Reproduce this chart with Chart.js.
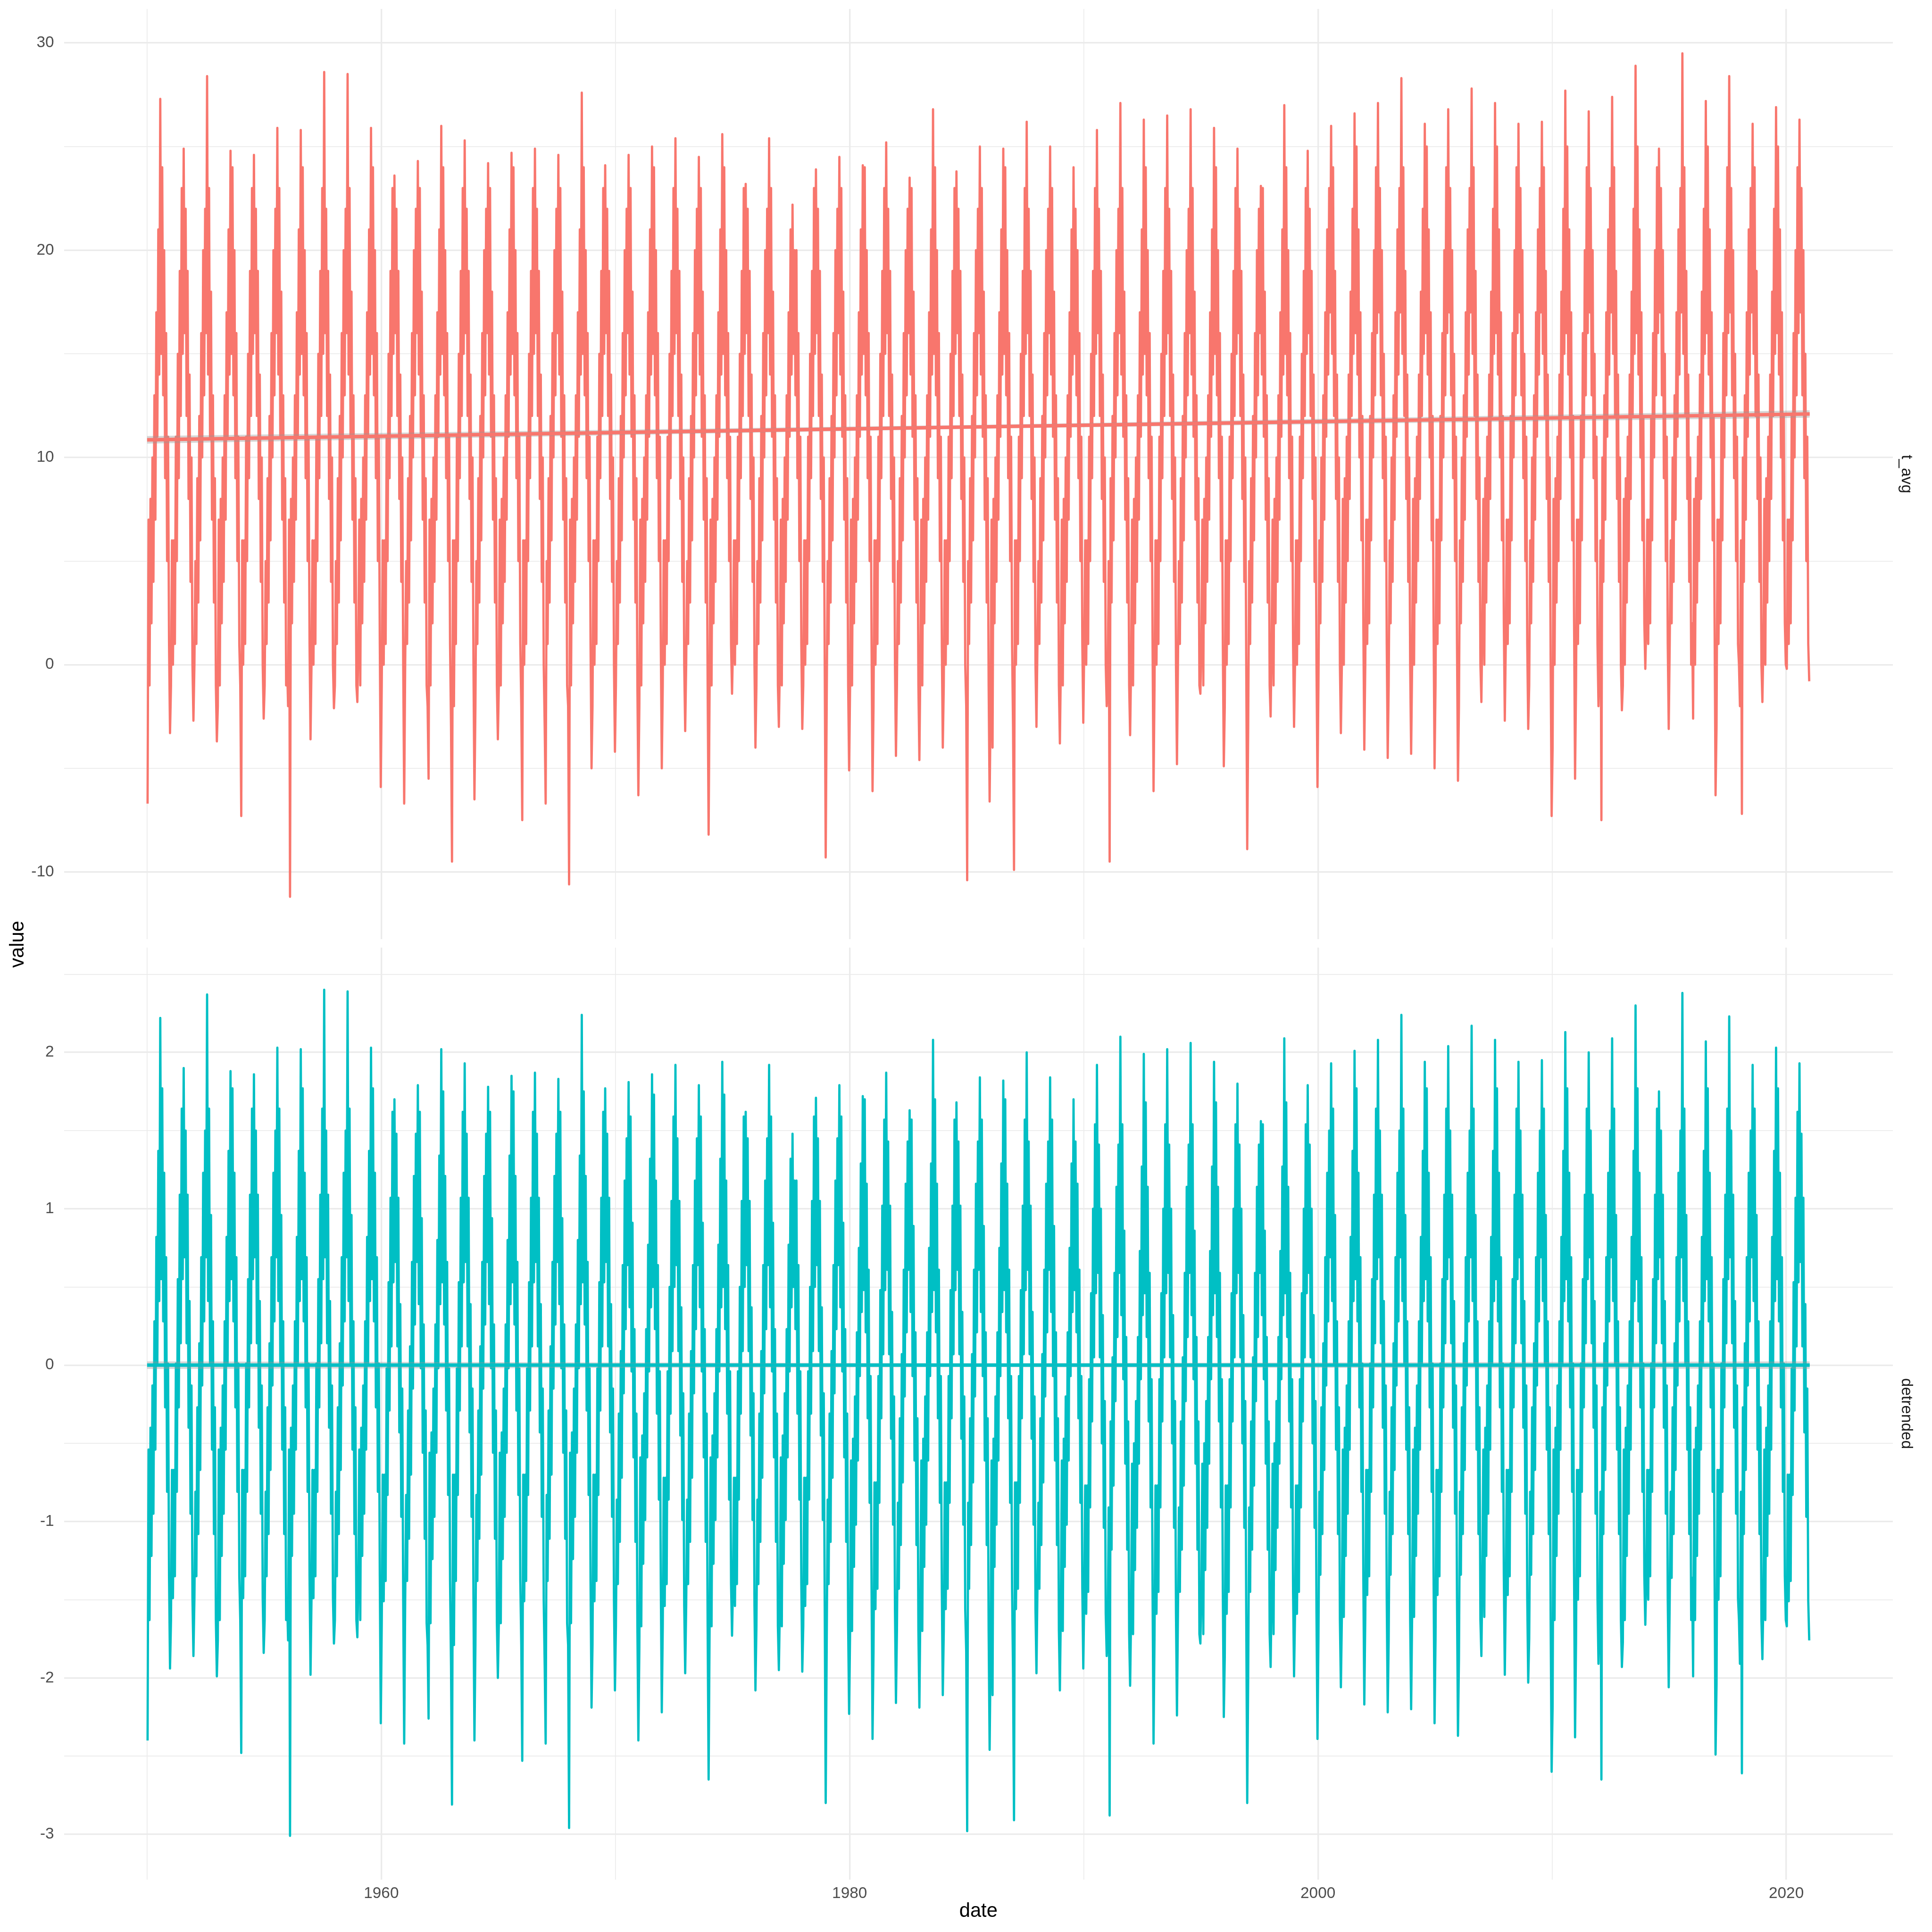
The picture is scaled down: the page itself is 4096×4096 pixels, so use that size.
<!DOCTYPE html>
<html><head><meta charset="utf-8">
<script src="https://cdn.jsdelivr.net/npm/chart.js@4.4.1/dist/chart.umd.min.js"></script>
<style>
html,body{margin:0;padding:0;background:#fff;}
#wrap{position:relative;width:4096px;height:4096px;background:#fff;}
canvas{position:absolute;left:0;top:0;}
</style></head><body>
<div id="wrap">
<canvas id="cTop" width="4096" height="4096" style="width:4096px;height:4096px"></canvas>
<canvas id="cBot" width="4096" height="4096" style="width:4096px;height:4096px"></canvas>
</div>
<script>
// ---------------- data: semi-monthly readings (24 per year), 1950-2020 ----------------
const startYear = 1950;
const pointsPerYear = 24;

const tAvg = [
-6.7,7,-1,8,2,10,4,13,7,17,11,21,14,27.3,15,24,13,20,9,16,5,11,1,-3.3,
-1,6,0,6,1,11,5,15,9,19,12,23,15,24.9,16,22,12,19,8,14,4,10,0,-2.7,
0,5,1,9,3,12,6,16,10,20,13,22,16,28.4,14,23,11,18,7,13,3,9,-1,-3.7,
-2,7,-1,8,2,10,4,13,7,17,11,21,14,24.8,15,24,13,20,9,16,5,11,1,-1,
-7.3,6,0,6,1,11,5,15,9,19,12,23,15,24.6,16,22,12,19,8,14,4,10,0,-2.6,
-1,5,1,9,3,12,6,16,10,20,13,22,16,25.9,14,23,11,18,7,13,3,9,-1,0,
-2,7,-11.2,8,2,10,4,13,7,17,11,21,14,25.8,15,24,13,20,9,16,5,11,1,-3.6,
0,6,0,6,1,11,5,15,9,19,12,23,15,28.6,16,22,12,19,8,14,4,10,0,-2.1,
-1,5,1,9,3,12,6,16,10,20,13,22,16,28.5,14,23,11,18,7,13,3,9,-1,-1.8,
1,7,-1,8,2,10,4,13,7,17,11,21,14,25.9,15,24,13,20,9,16,5,11,1,-5.9,
-1,6,0,6,1,11,5,15,9,19,12,23,15,23.6,16,22,12,19,8,14,4,10,0,-6.7,
0,5,1,9,3,12,6,16,10,20,13,22,16,24.3,14,23,11,18,7,13,3,9,-1,-2,
-5.5,7,-1,8,2,10,4,13,7,17,11,21,14,26,15,24,13,20,9,16,5,11,1,-3,
-9.5,6,-2,6,1,11,5,15,9,19,12,23,15,25.3,16,22,12,19,8,14,4,10,0,-6.5,
-2,5,1,9,3,12,6,16,10,20,13,22,16,24.2,14,23,11,18,7,13,3,9,-1,-3.6,
-1,7,-1,8,2,10,4,13,7,17,11,21,14,24.7,15,24,13,20,9,16,5,11,1,-2,
-7.5,6,0,6,1,11,5,15,9,19,12,23,15,24.9,16,22,12,19,8,14,4,10,0,-3,
-6.7,5,1,9,3,12,6,16,10,20,13,22,16,24.6,14,23,11,18,7,13,3,9,-1,-2,
-10.6,7,-1,8,2,10,4,13,7,17,11,21,14,27.6,15,24,13,20,9,16,5,11,1,-5,
-2,6,0,6,1,11,5,15,9,19,12,23,15,24.1,16,22,12,19,8,14,4,10,0,-4.2,
-1,5,1,9,3,12,6,16,10,20,13,22,16,24.6,14,23,11,18,7,13,3,9,-1,-6.3,
-2,7,-1,8,2,10,4,13,7,17,11,21,14,25,15,24,13,20,9,16,5,11,1,-5,
-1,6,0,6,1,11,5,15,9,19,12,23,15,25.4,16,22,12,19,8,14,4,10,0,-3.2,
0,5,1,9,3,12,6,16,10,20,13,22,16,24.5,14,23,11,18,7,13,3,9,-1,-8.2,
-1,7,-1,8,2,10,4,13,7,17,11,21,14,25.6,15,24,13,20,9,16,5,11,1,-1.4,
1,6,0,6,1,11,5,15,9,19,12,23,15,23.2,16,22,12,19,8,14,4,10,0,-4,
-1,5,1,9,3,12,6,16,10,20,13,22,16,25.4,14,23,11,18,7,13,3,9,-1,-3,
0,7,-1,8,2,10,4,13,7,17,11,21,14,22.2,15,20,13,20,9,16,5,11,1,-3.1,
-1,6,0,6,1,11,5,15,9,19,12,23,15,23.9,16,22,12,19,8,14,4,10,0,-9.3,
-2,5,1,9,3,12,6,16,10,20,13,22,16,24.5,14,23,11,18,7,13,3,9,-1,-5.1,
-1,7,-1,8,2,10,4,13,7,17,11,21,14,24.1,15,24,13,20,9,16,5,11,1,-6.1,
-2,6,0,6,1,11,5,15,9,19,12,23,15,25.2,16,22,12,19,8,14,4,10,0,-4.4,
-1,5,1,9,3,12,6,16,10,20,13,22,16,23.5,14,23,11,18,7,13,3,9,-1,-4.6,
0,7,-1,8,2,10,4,13,7,17,11,21,14,26.8,15,24,13,20,9,16,5,11,1,-4,
-1,6,0,6,1,11,5,15,9,19,12,23,15,23.8,16,22,12,19,8,14,4,10,0,-2,
-10.4,5,1,9,3,12,6,16,10,20,13,22,16,25,14,23,11,18,7,13,3,9,-1,-6.6,
-2,7,-4,8,2,10,4,13,7,17,11,21,14,24.9,15,24,13,20,9,16,5,11,1,-3,
-9.9,6,0,6,1,11,5,15,9,19,12,23,15,26.2,16,22,12,19,8,14,4,10,0,-3,
1,5,1,9,3,12,6,16,10,20,13,22,16,25,14,23,11,18,7,13,3,9,-1,-3.8,
0,7,-1,8,2,10,4,13,7,17,11,21,14,24,15,22,13,20,9,16,5,11,1,-2.8,
1,6,0,6,1,11,5,15,9,19,12,23,15,25.8,16,22,12,19,8,14,4,10,0,-2,
-1,5,-9.5,9,3,12,6,16,10,20,13,22,16,27.1,14,23,11,18,7,13,3,9,-1,-3.4,
0,7,-1,8,2,10,4,13,7,17,11,21,14,26.3,15,24,13,20,9,16,5,11,1,-6.1,
-1,6,0,6,1,11,5,15,9,19,12,23,15,26.5,16,22,12,19,8,14,4,10,0,-4.8,
0,5,1,9,3,12,6,16,10,20,13,22,16,26.8,14,23,11,18,7,13,3,9,-1,-1.4,
1,7,-1,8,2,10,4,13,7,17,11,21,14,25.9,15,24,13,20,9,16,5,11,1,-4.9,
-2,6,0,6,1,11,5,15,9,19,12,23,15,24.9,16,22,12,19,8,14,4,10,0,-8.9,
-3,5,1,9,3,12,6,16,10,20,13,22,16,23.1,14,23,11,18,7,13,3,9,-1,-2.5,
1,7,-1,8,2,10,4,13,7,17,11,21,14,27,15,24,13,20,9,16,5,11,1,-3,
0,6,0,6,1,11,5,15,9,19,12,23,15,24.8,16,22,12,19,8,14,4,10,0,-5.9,
-1,6,2,10,4,13,7,17,11,21,14,23,17,26,15,24,12,19,8,14,4,10,0,-3.3,
0,8,0,9,3,11,5,14,8,18,12,22,15,26.6,16,25,14,21,10,17,6,12,2,-4.1,
0,7,1,7,2,12,6,16,10,20,13,24,16,27.1,17,23,13,20,9,15,5,11,1,-4.5,
-1,6,2,10,4,13,7,17,11,21,14,23,17,28.3,15,24,12,19,8,14,4,10,0,-4.3,
0,8,0,9,3,11,5,14,8,18,12,22,15,26.1,16,25,14,21,10,17,6,12,2,-5,
-1,7,1,7,2,12,6,16,10,20,13,24,16,26.8,17,23,13,20,9,15,5,11,1,-5.6,
-2,6,2,10,4,13,7,17,11,21,14,23,17,27.8,15,24,12,19,8,14,4,10,0,-1.8,
2,8,0,9,3,11,5,14,8,18,12,22,15,27.1,16,25,14,21,10,17,6,12,2,-2.7,
1,7,1,7,2,12,6,16,10,20,13,24,16,26.1,17,23,13,20,9,15,5,11,1,-3.1,
-1,6,2,10,4,13,7,17,11,21,14,23,17,26.2,15,24,12,19,8,14,4,10,0,-7.3,
-4,8,0,9,3,11,5,14,8,18,12,22,15,27.7,16,25,14,21,10,17,6,12,2,-5.5,
-1,7,1,7,2,12,6,16,10,20,13,24,16,26.7,17,23,13,20,9,15,5,11,1,-2,
0,6,-7.5,10,4,13,7,17,11,21,14,23,17,27.4,15,24,12,19,8,14,4,10,0,-2.2,
-1,8,0,9,3,11,5,14,8,18,12,22,15,28.9,16,25,14,21,10,17,6,12,2,-0.2,
2,7,1,7,2,12,6,16,10,20,13,24,16,24.9,17,23,13,20,9,15,5,11,1,-3.1,
1,6,2,10,4,13,7,17,11,21,14,23,17,29.5,15,24,12,19,8,14,4,10,0,2,
-2.6,8,0,9,3,11,5,14,8,18,12,22,15,27.2,16,25,14,21,10,17,6,12,2,-6.3,
-3,7,1,7,2,12,6,16,10,20,13,24,16,28.4,17,23,13,20,9,15,5,11,1,0,
-2,6,-7.2,10,4,13,7,17,11,21,14,23,17,26.1,15,24,12,19,8,14,4,10,0,-1.8,
1,8,0,9,3,11,5,14,8,18,12,22,15,26.9,16,25,14,21,10,17,6,12,2,0,
-0.2,7,1,7,2,12,6,16,10,20,13,24,16,26.3,17,23,13,20,9,15,5,11,1,-0.8
];

const detrended = [
-2.40,-0.54,-1.63,-0.40,-1.22,-0.13,-0.95,0.28,-0.54,0.82,0.01,1.37,0.41,2.22,0.55,1.77,0.28,1.23,-0.27,0.69,-0.81,0.01,-1.35,-1.94,
-1.63,-0.67,-1.49,-0.67,-1.35,0.01,-0.81,0.55,-0.27,1.09,0.14,1.64,0.55,1.90,0.69,1.50,0.14,1.09,-0.40,0.41,-0.95,-0.13,-1.49,-1.86,
-1.49,-0.81,-1.35,-0.27,-1.08,0.14,-0.67,0.69,-0.13,1.23,0.28,1.50,0.69,2.37,0.41,1.64,0.01,0.96,-0.54,0.28,-1.08,-0.27,-1.63,-1.99,
-1.76,-0.54,-1.63,-0.40,-1.22,-0.13,-0.95,0.28,-0.54,0.82,0.01,1.37,0.41,1.88,0.55,1.77,0.28,1.23,-0.27,0.69,-0.81,0.01,-1.35,-1.63,
-2.48,-0.67,-1.49,-0.67,-1.35,0.01,-0.81,0.55,-0.27,1.09,0.14,1.64,0.55,1.86,0.69,1.50,0.14,1.09,-0.40,0.41,-0.95,-0.13,-1.49,-1.84,
-1.63,-0.81,-1.35,-0.27,-1.08,0.14,-0.67,0.69,-0.13,1.23,0.28,1.50,0.69,2.03,0.41,1.64,0.01,0.96,-0.54,0.28,-1.08,-0.27,-1.63,-1.49,
-1.76,-0.54,-3.01,-0.40,-1.22,-0.13,-0.95,0.28,-0.54,0.82,0.01,1.37,0.41,2.02,0.55,1.77,0.28,1.23,-0.27,0.69,-0.81,0.01,-1.35,-1.98,
-1.49,-0.67,-1.49,-0.67,-1.35,0.01,-0.81,0.55,-0.27,1.09,0.14,1.64,0.55,2.40,0.69,1.50,0.14,1.09,-0.40,0.41,-0.95,-0.13,-1.49,-1.78,
-1.63,-0.81,-1.35,-0.27,-1.08,0.14,-0.67,0.69,-0.13,1.23,0.28,1.50,0.69,2.39,0.41,1.64,0.01,0.96,-0.54,0.28,-1.08,-0.27,-1.63,-1.74,
-1.35,-0.54,-1.63,-0.40,-1.22,-0.13,-0.95,0.28,-0.54,0.82,0.01,1.37,0.41,2.03,0.55,1.77,0.28,1.23,-0.27,0.69,-0.81,0.01,-1.35,-2.29,
-1.65,-0.70,-1.51,-0.70,-1.38,-0.02,-0.83,0.53,-0.29,1.07,0.12,1.62,0.53,1.70,0.66,1.48,0.12,1.07,-0.43,0.39,-0.97,-0.15,-1.51,-2.42,
-1.51,-0.83,-1.38,-0.29,-1.11,0.12,-0.70,0.66,-0.15,1.21,0.26,1.48,0.66,1.79,0.39,1.62,-0.02,0.94,-0.56,0.26,-1.11,-0.29,-1.65,-1.79,
-2.26,-0.56,-1.65,-0.43,-1.24,-0.15,-0.97,0.26,-0.56,0.80,-0.02,1.34,0.39,2.02,0.53,1.75,0.26,1.21,-0.29,0.66,-0.83,-0.02,-1.38,-1.92,
-2.81,-0.70,-1.79,-0.70,-1.38,-0.02,-0.83,0.53,-0.29,1.07,0.12,1.62,0.53,1.93,0.66,1.48,0.12,1.07,-0.43,0.39,-0.97,-0.15,-1.51,-2.40,
-1.79,-0.83,-1.38,-0.29,-1.11,0.12,-0.70,0.66,-0.15,1.21,0.26,1.48,0.66,1.78,0.39,1.62,-0.02,0.94,-0.56,0.26,-1.11,-0.29,-1.65,-2.00,
-1.65,-0.56,-1.65,-0.43,-1.24,-0.15,-0.97,0.26,-0.56,0.80,-0.02,1.34,0.39,1.85,0.53,1.75,0.26,1.21,-0.29,0.66,-0.83,-0.02,-1.38,-1.79,
-2.53,-0.70,-1.51,-0.70,-1.38,-0.02,-0.83,0.53,-0.29,1.07,0.12,1.62,0.53,1.87,0.66,1.48,0.12,1.07,-0.43,0.39,-0.97,-0.15,-1.51,-1.92,
-2.42,-0.83,-1.38,-0.29,-1.11,0.12,-0.70,0.66,-0.15,1.21,0.26,1.48,0.66,1.83,0.39,1.62,-0.02,0.94,-0.56,0.26,-1.11,-0.29,-1.65,-1.79,
-2.96,-0.56,-1.65,-0.43,-1.24,-0.15,-0.97,0.26,-0.56,0.80,-0.02,1.34,0.39,2.24,0.53,1.75,0.26,1.21,-0.29,0.66,-0.83,-0.02,-1.38,-2.19,
-1.79,-0.70,-1.51,-0.70,-1.38,-0.02,-0.83,0.53,-0.29,1.07,0.12,1.62,0.53,1.77,0.66,1.48,0.12,1.07,-0.43,0.39,-0.97,-0.15,-1.51,-2.08,
-1.67,-0.86,-1.40,-0.31,-1.13,0.09,-0.72,0.64,-0.18,1.18,0.23,1.45,0.64,1.81,0.37,1.59,-0.04,0.91,-0.59,0.23,-1.13,-0.31,-1.67,-2.40,
-1.81,-0.59,-1.67,-0.45,-1.27,-0.18,-0.99,0.23,-0.59,0.77,-0.04,1.32,0.37,1.86,0.50,1.73,0.23,1.18,-0.31,0.64,-0.86,-0.04,-1.40,-2.22,
-1.67,-0.72,-1.54,-0.72,-1.40,-0.04,-0.86,0.50,-0.31,1.05,0.09,1.59,0.50,1.92,0.64,1.45,0.09,1.05,-0.45,0.37,-0.99,-0.18,-1.54,-1.97,
-1.54,-0.86,-1.40,-0.31,-1.13,0.09,-0.72,0.64,-0.18,1.18,0.23,1.45,0.64,1.79,0.37,1.59,-0.04,0.91,-0.59,0.23,-1.13,-0.31,-1.67,-2.65,
-1.67,-0.59,-1.67,-0.45,-1.27,-0.18,-0.99,0.23,-0.59,0.77,-0.04,1.32,0.37,1.94,0.50,1.73,0.23,1.18,-0.31,0.64,-0.86,-0.04,-1.40,-1.73,
-1.40,-0.72,-1.54,-0.72,-1.40,-0.04,-0.86,0.50,-0.31,1.05,0.09,1.59,0.50,1.62,0.64,1.45,0.09,1.05,-0.45,0.37,-0.99,-0.18,-1.54,-2.08,
-1.67,-0.86,-1.40,-0.31,-1.13,0.09,-0.72,0.64,-0.18,1.18,0.23,1.45,0.64,1.92,0.37,1.59,-0.04,0.91,-0.59,0.23,-1.13,-0.31,-1.67,-1.95,
-1.54,-0.59,-1.67,-0.45,-1.27,-0.18,-0.99,0.23,-0.59,0.77,-0.04,1.32,0.37,1.48,0.50,1.18,0.23,1.18,-0.31,0.64,-0.86,-0.04,-1.40,-1.96,
-1.67,-0.72,-1.54,-0.72,-1.40,-0.04,-0.86,0.50,-0.31,1.05,0.09,1.59,0.50,1.71,0.64,1.45,0.09,1.05,-0.45,0.37,-0.99,-0.18,-1.54,-2.80,
-1.81,-0.86,-1.40,-0.31,-1.13,0.09,-0.72,0.64,-0.18,1.18,0.23,1.45,0.64,1.79,0.37,1.59,-0.04,0.91,-0.59,0.23,-1.13,-0.31,-1.67,-2.23,
-1.70,-0.61,-1.70,-0.47,-1.29,-0.20,-1.02,0.21,-0.61,0.75,-0.07,1.29,0.34,1.72,0.48,1.70,0.21,1.16,-0.34,0.61,-0.88,-0.07,-1.43,-2.39,
-1.83,-0.75,-1.56,-0.75,-1.43,-0.07,-0.88,0.48,-0.34,1.02,0.07,1.57,0.48,1.87,0.61,1.43,0.07,1.02,-0.47,0.34,-1.02,-0.20,-1.56,-2.16,
-1.70,-0.88,-1.43,-0.34,-1.15,0.07,-0.75,0.61,-0.20,1.16,0.21,1.43,0.61,1.63,0.34,1.57,-0.07,0.89,-0.61,0.21,-1.15,-0.34,-1.70,-2.19,
-1.56,-0.61,-1.70,-0.47,-1.29,-0.20,-1.02,0.21,-0.61,0.75,-0.07,1.29,0.34,2.08,0.48,1.70,0.21,1.16,-0.34,0.61,-0.88,-0.07,-1.43,-2.11,
-1.70,-0.75,-1.56,-0.75,-1.43,-0.07,-0.88,0.48,-0.34,1.02,0.07,1.57,0.48,1.68,0.61,1.43,0.07,1.02,-0.47,0.34,-1.02,-0.20,-1.56,-1.83,
-2.98,-0.88,-1.43,-0.34,-1.15,0.07,-0.75,0.61,-0.20,1.16,0.21,1.43,0.61,1.84,0.34,1.57,-0.07,0.89,-0.61,0.21,-1.15,-0.34,-1.70,-2.46,
-1.83,-0.61,-2.11,-0.47,-1.29,-0.20,-1.02,0.21,-0.61,0.75,-0.07,1.29,0.34,1.82,0.48,1.70,0.21,1.16,-0.34,0.61,-0.88,-0.07,-1.43,-1.97,
-2.91,-0.75,-1.56,-0.75,-1.43,-0.07,-0.88,0.48,-0.34,1.02,0.07,1.57,0.48,2.00,0.61,1.43,0.07,1.02,-0.47,0.34,-1.02,-0.20,-1.56,-1.97,
-1.43,-0.88,-1.43,-0.34,-1.15,0.07,-0.75,0.61,-0.20,1.16,0.21,1.43,0.61,1.84,0.34,1.57,-0.07,0.89,-0.61,0.21,-1.15,-0.34,-1.70,-2.08,
-1.56,-0.61,-1.70,-0.47,-1.29,-0.20,-1.02,0.21,-0.61,0.75,-0.07,1.29,0.34,1.70,0.48,1.43,0.21,1.16,-0.34,0.61,-0.88,-0.07,-1.43,-1.94,
-1.45,-0.77,-1.59,-0.77,-1.45,-0.09,-0.91,0.46,-0.36,1.00,0.05,1.54,0.46,1.92,0.59,1.41,0.05,1.00,-0.50,0.32,-1.04,-0.23,-1.59,-1.86,
-1.72,-0.91,-2.88,-0.36,-1.18,0.05,-0.77,0.59,-0.23,1.14,0.18,1.41,0.59,2.10,0.32,1.54,-0.09,0.86,-0.63,0.18,-1.18,-0.36,-1.72,-2.05,
-1.59,-0.63,-1.72,-0.50,-1.31,-0.23,-1.04,0.18,-0.63,0.73,-0.09,1.27,0.32,1.99,0.46,1.68,0.18,1.14,-0.36,0.59,-0.91,-0.09,-1.45,-2.42,
-1.72,-0.77,-1.59,-0.77,-1.45,-0.09,-0.91,0.46,-0.36,1.00,0.05,1.54,0.46,2.02,0.59,1.41,0.05,1.00,-0.50,0.32,-1.04,-0.23,-1.59,-2.24,
-1.59,-0.91,-1.45,-0.36,-1.18,0.05,-0.77,0.59,-0.23,1.14,0.18,1.41,0.59,2.06,0.32,1.54,-0.09,0.86,-0.63,0.18,-1.18,-0.36,-1.72,-1.78,
-1.45,-0.63,-1.72,-0.50,-1.31,-0.23,-1.04,0.18,-0.63,0.73,-0.09,1.27,0.32,1.94,0.46,1.68,0.18,1.14,-0.36,0.59,-0.91,-0.09,-1.45,-2.25,
-1.86,-0.77,-1.59,-0.77,-1.45,-0.09,-0.91,0.46,-0.36,1.00,0.05,1.54,0.46,1.80,0.59,1.41,0.05,1.00,-0.50,0.32,-1.04,-0.23,-1.59,-2.80,
-1.99,-0.91,-1.45,-0.36,-1.18,0.05,-0.77,0.59,-0.23,1.14,0.18,1.41,0.59,1.56,0.32,1.54,-0.09,0.86,-0.63,0.18,-1.18,-0.36,-1.72,-1.93,
-1.45,-0.63,-1.72,-0.50,-1.31,-0.23,-1.04,0.18,-0.63,0.73,-0.09,1.27,0.32,2.09,0.46,1.68,0.18,1.14,-0.36,0.59,-0.91,-0.09,-1.45,-1.99,
-1.59,-0.77,-1.59,-0.77,-1.45,-0.09,-0.91,0.46,-0.36,1.00,0.05,1.54,0.46,1.79,0.59,1.41,0.05,1.00,-0.50,0.32,-1.04,-0.23,-1.59,-2.39,
-1.75,-0.81,-1.34,-0.27,-1.08,0.14,-0.67,0.69,-0.13,1.23,0.28,1.50,0.69,1.93,0.41,1.64,0.01,0.96,-0.54,0.28,-1.08,-0.27,-1.63,-2.06,
-1.61,-0.54,-1.61,-0.40,-1.22,-0.13,-0.95,0.28,-0.54,0.82,0.01,1.37,0.41,2.01,0.55,1.77,0.28,1.23,-0.27,0.69,-0.81,0.01,-1.35,-2.17,
-1.61,-0.67,-1.47,-0.67,-1.35,0.01,-0.81,0.55,-0.27,1.09,0.14,1.64,0.55,2.08,0.69,1.50,0.14,1.09,-0.40,0.41,-0.95,-0.13,-1.49,-2.22,
-1.75,-0.81,-1.34,-0.27,-1.08,0.14,-0.67,0.69,-0.13,1.23,0.28,1.50,0.69,2.24,0.41,1.64,0.01,0.96,-0.54,0.28,-1.08,-0.27,-1.63,-2.20,
-1.61,-0.54,-1.61,-0.40,-1.22,-0.13,-0.95,0.28,-0.54,0.82,0.01,1.37,0.41,1.94,0.55,1.77,0.28,1.23,-0.27,0.69,-0.81,0.01,-1.35,-2.29,
-1.75,-0.67,-1.47,-0.67,-1.35,0.01,-0.81,0.55,-0.27,1.09,0.14,1.64,0.55,2.04,0.69,1.50,0.14,1.09,-0.40,0.41,-0.95,-0.13,-1.49,-2.37,
-1.88,-0.81,-1.34,-0.27,-1.08,0.14,-0.67,0.69,-0.13,1.23,0.28,1.50,0.69,2.17,0.41,1.64,0.01,0.96,-0.54,0.28,-1.08,-0.27,-1.63,-1.86,
-1.34,-0.54,-1.61,-0.40,-1.22,-0.13,-0.95,0.28,-0.54,0.82,0.01,1.37,0.41,2.08,0.55,1.77,0.28,1.23,-0.27,0.69,-0.81,0.01,-1.35,-1.98,
-1.47,-0.67,-1.47,-0.67,-1.35,0.01,-0.81,0.55,-0.27,1.09,0.14,1.64,0.55,1.94,0.69,1.50,0.14,1.09,-0.40,0.41,-0.95,-0.13,-1.49,-2.03,
-1.75,-0.81,-1.34,-0.27,-1.08,0.14,-0.67,0.69,-0.13,1.23,0.28,1.50,0.69,1.95,0.41,1.64,0.01,0.96,-0.54,0.28,-1.08,-0.27,-1.63,-2.60,
-2.18,-0.54,-1.63,-0.40,-1.22,-0.13,-0.95,0.28,-0.54,0.82,0.01,1.37,0.41,2.13,0.55,1.77,0.28,1.23,-0.27,0.69,-0.81,0.01,-1.35,-2.38,
-1.77,-0.67,-1.50,-0.67,-1.35,0.01,-0.81,0.55,-0.27,1.09,0.14,1.64,0.55,2.00,0.69,1.50,0.14,1.09,-0.40,0.41,-0.95,-0.13,-1.49,-1.91,
-1.63,-0.81,-2.65,-0.27,-1.08,0.14,-0.67,0.69,-0.13,1.23,0.28,1.50,0.69,2.09,0.41,1.64,0.01,0.96,-0.54,0.28,-1.08,-0.27,-1.63,-1.93,
-1.77,-0.54,-1.63,-0.40,-1.22,-0.13,-0.95,0.28,-0.54,0.82,0.01,1.37,0.41,2.30,0.55,1.77,0.28,1.23,-0.27,0.69,-0.81,0.01,-1.35,-1.66,
-1.36,-0.67,-1.50,-0.67,-1.35,0.01,-0.81,0.55,-0.27,1.09,0.14,1.64,0.55,1.75,0.69,1.50,0.14,1.09,-0.40,0.41,-0.95,-0.13,-1.49,-2.06,
-1.50,-0.81,-1.36,-0.27,-1.08,0.14,-0.67,0.69,-0.13,1.23,0.28,1.50,0.69,2.38,0.41,1.64,0.01,0.96,-0.54,0.28,-1.08,-0.27,-1.63,-1.36,
-1.99,-0.54,-1.63,-0.40,-1.22,-0.13,-0.95,0.28,-0.54,0.82,0.01,1.37,0.41,2.07,0.55,1.77,0.28,1.23,-0.27,0.69,-0.81,0.01,-1.35,-2.49,
-2.04,-0.67,-1.50,-0.67,-1.35,0.01,-0.81,0.55,-0.27,1.09,0.14,1.64,0.55,2.23,0.69,1.50,0.14,1.09,-0.40,0.41,-0.95,-0.13,-1.49,-1.63,
-1.91,-0.81,-2.61,-0.27,-1.08,0.14,-0.67,0.69,-0.13,1.23,0.28,1.50,0.69,1.92,0.41,1.64,0.01,0.96,-0.54,0.28,-1.08,-0.27,-1.63,-1.88,
-1.50,-0.54,-1.63,-0.40,-1.22,-0.13,-0.95,0.28,-0.54,0.82,0.01,1.37,0.41,2.03,0.55,1.77,0.28,1.23,-0.27,0.69,-0.81,0.01,-1.35,-1.63,
-1.67,-0.70,-1.51,-0.70,-1.38,-0.02,-0.83,0.53,-0.29,1.07,0.12,1.62,0.53,1.93,0.66,1.48,0.12,1.07,-0.43,0.39,-0.97,-0.15,-1.51,-1.76
];

// fitted linear trends (geom_smooth lm) and their confidence ribbons
const trendDates = [1950.0, 2021.0];
const tAvgTrend = [10.85, 12.1];
const detTrend = [0, 0];
const ribbonDates = [1950.0, 1985.5, 2021.0];
const tAvgRibLo = [10.67, 11.39, 11.92];
const tAvgRibHi = [11.03, 11.57, 12.28];
const detRibLo = [-0.024, -0.012, -0.024];
const detRibHi = [0.024, 0.012, 0.024];

// axis breaks
const xMajor = [1960, 1980, 2000, 2020];
const xMinor = [1950, 1970, 1990, 2010];
const tAvgMajor = [-10, 0, 10, 20, 30];
const tAvgMinor = [-5, 5, 15, 25];
const detMajor = [-3, -2, -1, 0, 1, 2];
const detMinor = [-2.5, -1.5, -0.5, 0.5, 1.5, 2.5];

const panelNames = ['t_avg', 'detrended'];
const xTitle = 'date';
const yTitle = 'value';

// ---------------- layout / style ----------------
const FONT = '"Liberation Sans", Arial, Helvetica, sans-serif';
const W = 4096;
const PL = 135.6, PR = 4013;
const TOP_T = 19, TOP_B = 1991, BOT_T = 2009, BOT_B = 3985;
const GRID = '#EBEBEB';
const RED = '#F8766D', CYAN = '#00BFC4';
const RIB = 'rgba(153,153,153,0.4)';

const dateOf = i => startYear + (i + 0.5) / pointsPerYear;
const toPts = arr => arr.map((v, i) => ({x: dateOf(i), y: v}));
const zipPts = (xs, ys) => xs.map((x, i) => ({x: x, y: ys[i]}));

function makeDatasets(series, color, trend, ribLo, ribHi) {
  return [
    {data: zipPts(ribbonDates, ribLo), borderWidth: 0, pointRadius: 0, fill: false, order: 2, borderColor: 'rgba(0,0,0,0)'},
    {data: zipPts(ribbonDates, ribHi), borderWidth: 0, pointRadius: 0, fill: '-1', backgroundColor: RIB, order: 2, borderColor: 'rgba(0,0,0,0)'},
    {data: toPts(series), borderColor: color, borderWidth: 4.8, pointRadius: 0, fill: false, tension: 0,
     borderJoinStyle: 'round', borderCapStyle: 'butt', order: 3},
    {data: zipPts(trendDates, trend), borderColor: color, borderWidth: 7.3, pointRadius: 0, fill: false,
     borderCapStyle: 'butt', order: 1}
  ];
}

function gridWidth(major) {
  return ctx => (ctx.tick && major.includes(ctx.tick.value)) ? 3.3 : 1.7;
}

function zeroPad(s) {
  s.paddingTop = 0; s.paddingBottom = 0; s.paddingLeft = 0; s.paddingRight = 0;
}

function xScale(showLabels, height) {
  const all = xMinor.concat(xMajor).sort((a, b) => a - b);
  return {
    type: 'linear', position: 'bottom', min: 1946.45, max: 2024.55,
    afterBuildTicks: s => { s.ticks = all.map(v => ({value: v})); },
    afterFit: s => { s.height = height; zeroPad(s); },
    grid: {color: GRID, lineWidth: gridWidth(xMajor), drawTicks: false},
    border: {display: false},
    ticks: {display: showLabels, autoSkip: false, maxRotation: 0, minRotation: 0, padding: 10,
      color: '#4D4D4D', font: {family: FONT, size: 33.4},
      callback: v => xMajor.includes(v) ? String(v) : ''}
  };
}

function yScale(min, max, major, minor) {
  const all = minor.concat(major).sort((a, b) => a - b);
  return {
    type: 'linear', position: 'left', min: min, max: max,
    afterBuildTicks: s => { s.ticks = all.map(v => ({value: v})); },
    afterFit: s => { s.width = PL; zeroPad(s); },
    grid: {color: GRID, lineWidth: gridWidth(major), drawTicks: false},
    border: {display: false},
    ticks: {autoSkip: false, padding: 21, color: '#4D4D4D', font: {family: FONT, size: 33.4},
      callback: v => major.includes(v) ? String(v) : ''}
  };
}

const textPlugin = {
  id: 'facetText',
  afterDraw(chart) {
    const c = chart.ctx;
    c.save();
    c.textAlign = 'center';
    c.textBaseline = 'middle';
    c.fillStyle = '#000000';
    c.font = '41.7px ' + FONT;
    c.fillText(xTitle, (PL + PR) / 2, 4053);
    c.save();
    c.translate(39, (TOP_T + BOT_B) / 2);
    c.rotate(-Math.PI / 2);
    c.fillText(yTitle, 0, 0);
    c.restore();
    c.fillStyle = '#1A1A1A';
    c.font = '33.4px ' + FONT;
    const centers = [(TOP_T + TOP_B) / 2, (BOT_T + BOT_B) / 2];
    panelNames.forEach((name, k) => {
      c.save();
      c.translate(4041, centers[k]);
      c.rotate(Math.PI / 2);
      c.fillText(name, 0, 0);
      c.restore();
    });
    c.restore();
  }
};

const common = {
  responsive: false, animation: false, devicePixelRatio: 1, events: [],
  plugins: {legend: {display: false}, tooltip: {enabled: false}}
};

new Chart(document.getElementById('cTop'), {
  type: 'line',
  data: {datasets: makeDatasets(tAvg, RED, tAvgTrend, tAvgRibLo, tAvgRibHi)},
  options: Object.assign({}, common, {
    layout: {padding: {left: 0, right: W - PR, top: TOP_T, bottom: W - TOP_B}},
    scales: {x: xScale(false, 0), y: yScale(-13.24, 31.64, tAvgMajor, tAvgMinor)}
  })
});

new Chart(document.getElementById('cBot'), {
  type: 'line',
  data: {datasets: makeDatasets(detrended, CYAN, detTrend, detRibLo, detRibHi)},
  options: Object.assign({}, common, {
    layout: {padding: {left: 0, right: W - PR, top: BOT_T, bottom: 0}},
    scales: {x: xScale(true, W - BOT_B), y: yScale(-3.29, 2.67, detMajor, detMinor)}
  }),
  plugins: [textPlugin]
});
</script>
</body></html>
